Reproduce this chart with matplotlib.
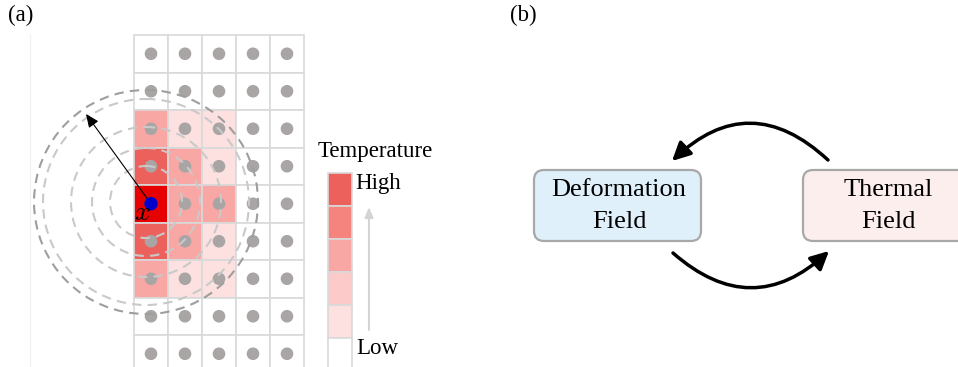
import matplotlib.pyplot as plt
from matplotlib.patches import Rectangle, Circle, FancyBboxPatch, FancyArrowPatch

plt.rcParams['font.family'] = ['Liberation Serif', 'DejaVu Serif']
plt.rcParams['mathtext.fontset'] = 'cm'

# temperature level per grid cell (rows top->bottom, 5 columns), 6 = source cell
cell_levels = [
    [0, 0, 0, 0, 0],
    [0, 0, 0, 0, 0],
    [3, 1, 1, 0, 0],
    [5, 3, 1, 0, 0],
    [6, 3, 3, 0, 0],
    [5, 3, 1, 0, 0],
    [3, 1, 1, 0, 0],
    [0, 0, 0, 0, 0],
    [0, 0, 0, 0, 0],
]
level_colors = ['#ffffff', '#fde1e0', '#fccac8', '#f9a7a5', '#f5847e', '#ec615c', '#e60000']
legend_levels = [5, 4, 3, 2, 1, 0]
legend_labels = ['High', 'Low']
ring_radii = [36, 54, 75, 103, 112]
box_labels = ['Deformation\nField', 'Thermal\nField']
box_colors = ['#dff0fa', '#fdeeee']

fig = plt.figure(figsize=(9.58, 3.67), dpi=100)
ax = fig.add_axes([0, 0, 1, 1])
ax.set_xlim(0, 958)
ax.set_ylim(367, 0)
ax.axis('off')

# ---- panel (a): particle grid ----
x0, y0, cw, ch = 134, 35, 34, 37.5
for r, row in enumerate(cell_levels):
    for c, lev in enumerate(row):
        ax.add_patch(Rectangle((x0 + c * cw, y0 + r * ch), cw, ch,
                               facecolor=level_colors[lev], edgecolor='#d9d9d9', lw=1.2, zorder=1))
        ax.add_patch(Circle((x0 + (c + 0.5) * cw, y0 + (r + 0.5) * ch), 5.6,
                            color='#aaa5a5', zorder=2))

cx, cy = 146, 202
for i, rad in enumerate(ring_radii):
    col = '#9e9e9e' if i == len(ring_radii) - 1 else '#c9c9c9'
    ax.add_patch(Circle((cx, cy), rad, fill=False, edgecolor=col, lw=1.5,
                        linestyle=(0, (4.5, 3)), zorder=3))

sx, sy = x0 + 0.5 * cw, y0 + 4.5 * ch
ax.add_patch(FancyArrowPatch((sx, sy), (86, 114), arrowstyle='-|>,head_length=8,head_width=3.5',
                             color='black', lw=0.8, shrinkA=0, shrinkB=0, zorder=4))
ax.add_patch(Circle((sx, sy), 6, color='#0000cc', zorder=5))
ax.text(142, 214, r'$x$', fontsize=20, ha='center', va='center', zorder=6)

ax.plot([30, 30], [35, 367], color='#f2f2f2', lw=1, zorder=0)

# legend bar
for i, lev in enumerate(legend_levels):
    ax.add_patch(Rectangle((328, 173 + i * 33), 24, 33, facecolor=level_colors[lev] if lev else '#ffffff',
                           edgecolor='#d9d9d9', lw=1.2, zorder=1))
ax.text(318, 152, 'Temperature', fontsize=16.5, ha='left', va='center')
ax.text(355, 184, legend_labels[0], fontsize=16.5, ha='left', va='center')
ax.text(356, 348, legend_labels[1], fontsize=16.5, ha='left', va='center')
ax.add_patch(FancyArrowPatch((369, 330), (369, 207), arrowstyle='-|>,head_length=6,head_width=2.5',
                             color='#d4d4d4', lw=1.5, shrinkA=0, shrinkB=0))

ax.text(8, 15, '(a)', fontsize=16.5, ha='left', va='center')
ax.text(510, 15, '(b)', fontsize=16.5, ha='left', va='center')

# ---- panel (b): coupled fields ----
box_x = [534, 803]
box_w = [167, 200]
for bx, bw, lab, fc in zip(box_x, box_w, box_labels, box_colors):
    ax.add_patch(FancyBboxPatch((bx, 170), bw, 71, boxstyle='round,pad=0,rounding_size=10',
                                facecolor=fc, edgecolor='#a8a8a8', lw=1.6, clip_on=False))
    ax.text(bx + 85, 206, lab, fontsize=19, ha='center', va='center', linespacing=1.6)

ax.add_patch(FancyArrowPatch((828, 160), (672, 161), connectionstyle='arc3,rad=0.47',
                             arrowstyle='-|>,head_length=11,head_width=5.5', color='black', lw=2.5,
                             shrinkA=0, shrinkB=0))
ax.add_patch(FancyArrowPatch((673, 253), (829, 251), connectionstyle='arc3,rad=0.45',
                             arrowstyle='-|>,head_length=11,head_width=5.5', color='black', lw=2.5,
                             shrinkA=0, shrinkB=0))

fig.savefig('out.png', dpi=100)
